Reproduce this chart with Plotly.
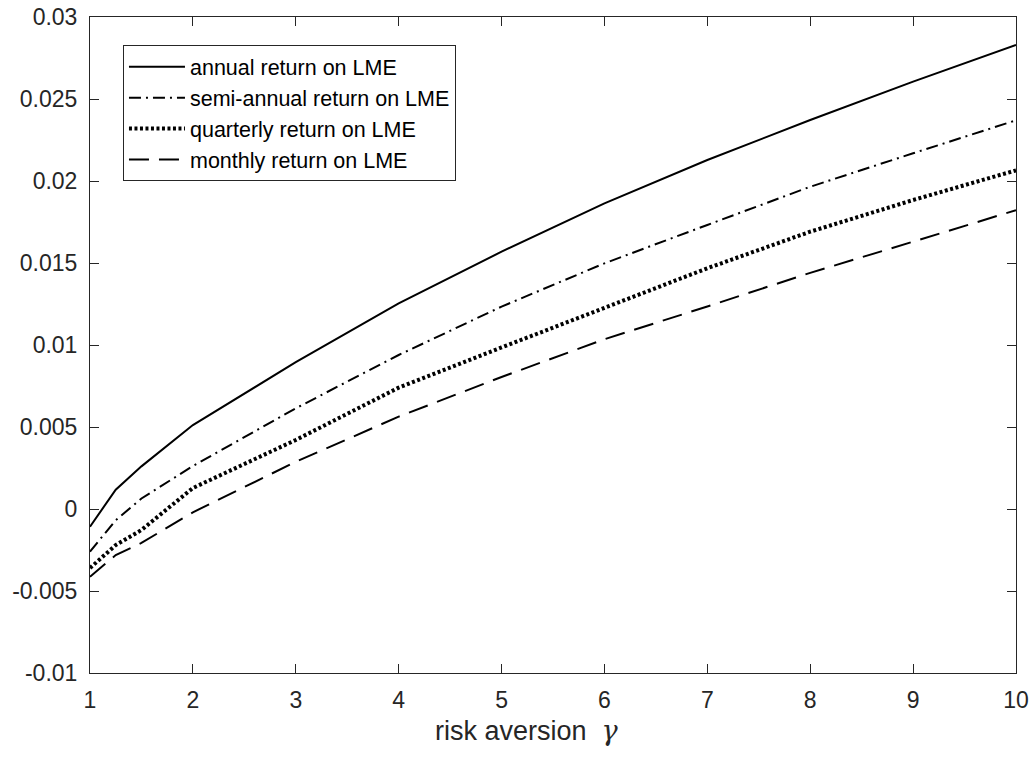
import plotly.graph_objects as go

gamma = [1, 1.25, 1.5, 2, 3, 4, 5, 6, 7, 8, 9, 10]
annual = [-0.00108, 0.00118, 0.00260, 0.00512, 0.00895, 0.01254, 0.01569, 0.01864, 0.02128, 0.02372, 0.02606, 0.02830]
semi_annual = [-0.00260, -0.00068, 0.00064, 0.00262, 0.00614, 0.00939, 0.01234, 0.01498, 0.01732, 0.01965, 0.02169, 0.02370]
quarterly = [-0.00360, -0.00220, -0.00128, 0.00128, 0.00421, 0.00740, 0.00985, 0.01224, 0.01468, 0.01691, 0.01884, 0.02065]
monthly = [-0.00413, -0.00281, -0.00207, -0.00020, 0.00288, 0.00563, 0.00805, 0.01035, 0.01235, 0.01440, 0.01630, 0.01822]

names = ["annual return on LME", "semi-annual return on LME",
         "quarterly return on LME", "monthly return on LME"]
series = [annual, semi_annual, quarterly, monthly]
styles = [dict(width=2, dash="solid"),
          dict(width=2, dash="12px,5px,2px,5px"),
          dict(width=4, dash="3px,2.5px"),
          dict(width=2, dash="20px,10px")]

x_ticks = list(range(1, 11))
y_ticks = [-0.01, -0.005, 0, 0.005, 0.01, 0.015, 0.02, 0.025, 0.03]
y_labels = ["-0.01", "-0.005", "0", "0.005", "0.01", "0.015", "0.02", "0.025", "0.03"]

FONT = "Liberation Sans, Arial, Helvetica, sans-serif"

fig = go.Figure()
for i, (n, s, st) in enumerate(zip(names, series, styles)):
    fig.add_trace(go.Scatter(x=gamma, y=s, mode="lines", name=n,
                             legendgroup=str(i),
                             line=dict(color="black", **st)))

axis_common = dict(showline=True, linecolor="#262626", linewidth=1,
                   mirror="ticks", ticks="inside", ticklen=9, tickcolor="#262626",
                   showgrid=False, zeroline=False, automargin=False,
                   ticklabeloverflow="allow",
                   tickfont=dict(family=FONT, size=23, color="#262626"))

fig.update_layout(
    width=1036, height=759,
    margin=dict(l=90, r=20, t=17, b=86),
    paper_bgcolor="white", plot_bgcolor="white",
    font=dict(family=FONT, color="#262626"),
    xaxis=dict(range=[1, 10], tickvals=x_ticks, ticklabelstandoff=6, **axis_common),
    yaxis=dict(range=[-0.01, 0.03], tickvals=y_ticks, ticktext=y_labels,
               ticklabelstandoff=7, **axis_common),
    legend=dict(x=0.0356, y=0.957, xanchor="left", yanchor="top",
                bgcolor="white", bordercolor="#262626", borderwidth=1,
                font=dict(family=FONT, size=21.5, color="black"), tracegroupgap=0,
                itemwidth=56),
    showlegend=True,
    annotations=[dict(text="risk aversion  <span style=\"font-family:'DejaVu Serif'\"><i>γ</i></span>",
                      xref="paper", yref="paper", x=0.370, y=-0.0875,
                      xanchor="left", yanchor="middle", showarrow=False,
                      font=dict(family=FONT, size=27, color="#262626"))],
)

fig.write_html("out.html", config={"displayModeBar": False},
               post_script="document.body.style.margin='0';")
